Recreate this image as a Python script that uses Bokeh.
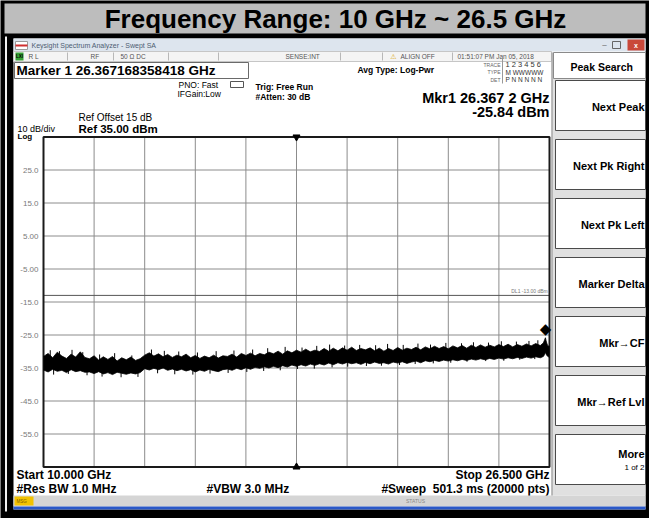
from bokeh.plotting import figure
from bokeh.models import Range1d
from bokeh.core.properties import value
from bokeh.embed import file_html
from bokeh.resources import INLINE

# ------------------------------------------------------------------ data
title_text = "Frequency Range: 10 GHz ~ 26.5 GHz"
start_ghz = 10.0
stop_ghz = 26.5
center_ghz = 18.25
ref_level_dbm = 35.0
db_per_div = 10.0
n_vdiv = 10
display_line_dbm = -13.0
marker_freq_ghz = 26.367168358418
marker_level_dbm = -25.84

y_tick_values = [25, 15, 5, -5, -15, -25, -35, -45, -55]
y_tick_labels = ["25.0", "15.0", "5.00", "-5.00", "-15.0", "-25.0", "-35.0", "-45.0", "-55.0"]
x_grid_ghz = [11.65, 13.30, 14.95, 16.60, 18.25, 19.90, 21.55, 23.20, 24.85]

freq_ghz = [
    10.00, 10.15, 10.30, 10.45, 10.60, 10.75, 10.90, 11.05, 11.20, 11.35,
    11.50, 11.65, 11.80, 11.95, 12.10, 12.25, 12.40, 12.55, 12.70, 12.85,
    13.00, 13.15, 13.30, 13.45, 13.60, 13.75, 13.90, 14.05, 14.20, 14.35,
    14.50, 14.65, 14.80, 14.95, 15.10, 15.25, 15.40, 15.55, 15.70, 15.85,
    16.00, 16.15, 16.30, 16.45, 16.60, 16.75, 16.90, 17.05, 17.20, 17.35,
    17.50, 17.65, 17.80, 17.95, 18.10, 18.25, 18.40, 18.55, 18.70, 18.85,
    19.00, 19.15, 19.30, 19.45, 19.60, 19.75, 19.90, 20.05, 20.20, 20.35,
    20.50, 20.65, 20.80, 20.95, 21.10, 21.25, 21.40, 21.55, 21.70, 21.85,
    22.00, 22.15, 22.30, 22.45, 22.60, 22.75, 22.90, 23.05, 23.20, 23.35,
    23.50, 23.65, 23.80, 23.95, 24.10, 24.25, 24.40, 24.55, 24.70, 24.85,
    25.00, 25.15, 25.30, 25.45, 25.60, 25.75, 25.90, 26.05, 26.20, 26.30,
    26.34, 26.367, 26.39, 26.43, 26.47, 26.50,
]
trace_upper_dbm = [
    -31.5, -30.6, -31.9, -30.2, -31.4, -32.1, -30.8, -31.7, -30.1, -31.8,
    -32.2, -31.3, -32.6, -31.6, -32.4, -31.5, -32.9, -31.9, -32.5, -31.7,
    -32.7, -32.2, -31.1, -30.4, -31.4, -30.7, -31.6, -30.9, -31.8, -31.1,
    -31.6, -30.8, -31.9, -31.2, -32.1, -31.4, -31.9, -31.1, -32.0, -31.3,
    -31.5, -30.8, -31.7, -30.6, -31.2, -30.5, -31.3, -30.6, -31.0, -30.2,
    -30.7, -29.9, -30.8, -29.8, -30.4, -29.6, -30.2, -29.3, -30.1, -29.6,
    -30.0, -29.1, -29.9, -29.0, -29.8, -28.9, -29.6, -28.7, -29.7, -29.1,
    -29.5, -28.9, -29.8, -29.0, -29.9, -29.1, -29.7, -28.8, -29.6, -29.0,
    -29.4, -28.7, -29.5, -28.6, -29.2, -28.4, -29.1, -28.5, -29.2, -28.3,
    -28.9, -28.2, -29.0, -28.1, -28.8, -28.0, -28.7, -28.1, -28.6, -27.9,
    -28.5, -27.8, -28.6, -27.9, -28.4, -27.7, -28.3, -27.6, -28.2, -27.4,
    -26.5, -25.84, -26.8, -28.0, -28.3, -28.6,
]
trace_lower_dbm = [
    -35.6, -36.2, -35.4, -36.0, -35.7, -36.4, -35.5, -36.1, -35.8, -36.3,
    -36.2, -36.7, -36.1, -36.8, -36.4, -37.0, -36.3, -36.6, -36.9, -36.5,
    -36.8, -36.4, -35.2, -35.6, -35.1, -35.5, -35.0, -35.7, -35.3, -35.8,
    -35.4, -35.9, -35.5, -36.2, -35.6, -36.0, -35.4, -35.8, -36.1, -35.5,
    -35.3, -35.7, -35.1, -35.5, -34.9, -35.4, -34.8, -35.1, -34.6, -35.0,
    -34.5, -34.9, -34.3, -34.7, -34.1, -34.5, -34.0, -34.4, -33.8, -34.2,
    -33.7, -34.1, -33.5, -34.0, -33.4, -33.8, -33.3, -33.7, -33.4, -33.9,
    -33.3, -33.7, -33.2, -33.6, -33.4, -33.8, -33.2, -33.5, -33.1, -33.6,
    -33.2, -32.9, -33.4, -32.8, -33.1, -32.7, -33.0, -32.6, -32.9, -32.5,
    -32.8, -32.4, -32.7, -32.3, -32.6, -32.2, -32.5, -32.1, -32.4, -32.0,
    -32.3, -31.9, -32.2, -31.8, -32.1, -31.7, -32.0, -31.6, -31.9, -31.5,
    -30.9, -30.2, -30.8, -31.4, -31.6, -31.9,
]

# isolated noise spikes above / below the trace band
spike_up_ghz = [10.22, 10.52, 10.93, 11.28, 11.83, 12.32, 12.88, 13.52, 13.94, 14.41,
                15.02, 15.63, 16.21, 16.82, 17.31, 17.88, 18.43, 18.91, 19.33, 19.82,
                20.31, 20.83, 21.22, 21.73, 22.21, 22.62, 23.12, 23.63, 24.02, 24.51,
                24.93, 25.42, 25.83, 26.12]
spike_up_dbm = [-29.6, -29.9, -29.5, -30.2, -30.9, -30.5, -31.2, -29.4, -29.8, -30.0,
                -30.3, -29.9, -29.7, -29.4, -29.0, -28.6, -28.8, -28.3, -27.9, -28.2,
                -28.0, -28.1, -27.7, -28.0, -27.6, -27.9, -27.4, -27.5, -27.2, -27.3,
                -26.9, -27.0, -26.8, -26.6]
spike_down_ghz = [10.33, 10.81, 11.42, 11.91, 12.53, 13.08, 13.72, 14.28, 14.87, 15.43,
                  16.02, 16.63, 17.18, 17.72, 18.28, 18.83, 19.41, 19.92, 20.53, 21.02,
                  21.61, 22.12, 22.71, 23.28, 23.81, 24.42, 25.01, 25.53, 26.02]
spike_down_dbm = [-37.0, -36.8, -37.2, -37.6, -37.8, -37.7, -36.6, -36.9, -37.0, -36.7,
                  -36.5, -36.2, -35.9, -35.7, -35.3, -35.2, -34.8, -34.6, -34.4, -34.3,
                  -34.1, -33.8, -33.6, -33.4, -33.1, -32.9, -32.8, -32.5, -32.3]

softkey_labels = ["Next Peak", "Next Pk Right", "Next Pk Left", "Marker Delta",
                  "Mkr\u2192CF", "Mkr\u2192Ref Lvl", "More"]
softkey_sub = "1 of 2"

# ------------------------------------------------------------------ layout (reference pixel coords)
W, H = 649, 518
OX, OY = 0, 0
PL, PR, PT, PB = 43.0, 549.0, 136.5, 466.5

ghz_per_px = (stop_ghz - start_ghz) / (PR - PL)
bottom_dbm = ref_level_dbm - db_per_div * n_vdiv
db_per_px = (ref_level_dbm - bottom_dbm) / (PB - PT)

x_range = Range1d(start_ghz - (PL - OX) * ghz_per_px, stop_ghz + (OX + W - PR) * ghz_per_px)
y_range = Range1d(bottom_dbm - (OY + H - PB) * db_per_px, ref_level_dbm + (PT - OY) * db_per_px)

p = figure(width=W, height=H, x_range=x_range, y_range=y_range,
           x_axis_type=None, y_axis_type=None, toolbar_location=None,
           output_backend="svg", min_border=0,
           background_fill_color="black", border_fill_color="black",
           outline_line_color=None)
p.extra_x_ranges = {"px": Range1d(OX, OX + W)}
p.extra_y_ranges = {"px": Range1d(OY + H, OY)}

FONT = "Liberation Sans"


def box(l, r, t, b, fill, line=None, lw=1):
    p.quad(left=[l], right=[r], top=[t], bottom=[b], fill_color=fill,
           line_color=line, line_width=lw, x_range_name="px", y_range_name="px")


def vline(x, y0, y1, color, lw=1):
    p.segment(x0=[x], x1=[x], y0=[y0], y1=[y1], line_color=color, line_width=lw,
              x_range_name="px", y_range_name="px")


def txt(x, y, s, size, bold=True, color="black", align="left", baseline="middle", font=FONT):
    p.text(x=[x], y=[y], text=[s], text_font=value(font), text_font_size=f"{size}px",
           text_font_style="bold" if bold else "normal", text_color=color,
           text_align=align, text_baseline=baseline,
           x_range_name="px", y_range_name="px")


# outer frame details
vline(5.5, 36, 511, "#f0f0f0", 2)

# title bar
box(4, 645, 3, 33, "#bdbdbd")
txt(335, 18.5, title_text, 26, align="center")

# analyzer window
box(13, 645, 38, 509, "#ffffff")
box(13, 645, 38, 51, "#dde5ee")
box(15, 27, 41, 49, "#ffffff", "#9a9a9a")
box(15, 27, 44, 46, "#d03030")
txt(31, 44.5, "Keysight Spectrum Analyzer - Swept SA", 7, bold=False, color="#4d5d72")
txt(604, 44, "\u2013", 8, bold=False, color="#555555", align="center")
box(612, 620, 41, 48, None, "#666666")
box(627, 644, 39, 50, "#c9483a")
txt(635.5, 44.5, "x", 7, color="white", align="center")

# status row
box(13, 551, 51, 61, "#f4f4f4", "#c6c6c6")
box(15, 23, 52, 60, "#36a336")
txt(19, 56, "LXI", 4.5, align="center")
for sx in [67, 113, 168, 218, 340, 382, 452]:
    vline(sx, 52, 60, "#b8b8b8")
txt(28, 56, "R L", 6.5, bold=False, color="#555555")
txt(90, 56, "RF", 6.5, bold=False, color="#555555")
txt(120, 56, "50 \u03a9  DC", 6.5, bold=False, color="#555555")
txt(285, 56, "SENSE:INT", 6.5, bold=False, color="#555555")
txt(393, 56, "\u26a0", 7, bold=False, color="#d9a400", align="center", font="DejaVu Sans")
txt(400, 56, "ALIGN OFF", 6.5, bold=False, color="#555555")
txt(457, 56, "01:51:07 PM Jan 05, 2018", 6.5, bold=False, color="#555555")

# marker header
box(14, 248, 62, 78, "#ffffff", "#6a6a6a")
txt(16, 70, "Marker 1 26.367168358418 GHz", 13.5)
txt(178, 84, "PNO: Fast", 8.5, bold=False)
txt(177, 93.5, "IFGain:Low", 8.5, bold=False)
box(230, 243, 81, 87, None, "#555555")
txt(255, 86, "Trig: Free Run", 8.5)
txt(255, 96, "#Atten: 30 dB", 8.5)
txt(357, 69, "Avg Type: Log-Pwr", 8.5)
vline(502, 58, 83, "#999999")
txt(500, 64, "TRACE", 5, bold=False, color="#666666", align="right")
txt(500, 71.5, "TYPE", 5, bold=False, color="#666666", align="right")
txt(500, 79, "DET", 5, bold=False, color="#666666", align="right")
txt(505, 64, "1 2 3 4 5 6", 7.5, bold=False, color="#333333")
txt(505, 71.5, "M WWWWW", 6.5, bold=False, color="#333333")
txt(505, 79, "P N N N N N", 6.5, bold=False, color="#333333")

txt(549, 97, "Mkr1 26.367 2 GHz", 14.5, align="right")
txt(549, 111, "-25.84 dBm", 14.5, align="right")
txt(78, 117, "Ref Offset 15 dB", 10, bold=False)
txt(17, 128, "10 dB/div", 9, bold=False)
txt(78, 128, "Ref 35.00 dBm", 11.5)
txt(17, 135.5, "Log", 8)

# bottom annotations
txt(16, 474, "Start 10.000 GHz", 12)
txt(549, 474, "Stop 26.500 GHz", 12, align="right")
txt(16, 488, "#Res BW 1.0 MHz", 12)
txt(206, 488, "#VBW 3.0 MHz", 12)
txt(549, 488, "#Sweep\u00a0\u00a0501.3 ms (20000 pts)", 12, align="right")

# bottom status bar
box(13, 645, 495, 506, "#d5d5d5")
box(14, 33, 496, 505, "#f2c200")
txt(16, 500.5, "MSG", 4.5, bold=False, color="#7a5a00")
txt(415, 500.5, "STATUS", 5, bold=False, color="#888888", align="center")
box(13, 645, 506, 509, "#2a58c8")

# soft key panel
box(551, 645, 52, 495, "#e0e0e0")
vline(551.5, 52, 495, "#8a8a8a")
box(553, 645, 52, 78, "#ffffff", "#8a8a8a")
txt(570, 66, "Peak Search", 10.5)
key_tops = [80, 139, 198, 257, 316, 375, 434]
key_h = 50
for kt, lab in zip(key_tops, softkey_labels):
    box(555, 645, kt, kt + key_h, "#ffffff", "#4a4a4a")
    ty = kt + key_h / 2 + 1
    if lab == "More":
        ty = kt + 19
    txt(644, ty, lab, 11, align="right")
txt(644, key_tops[-1] + 33, softkey_sub, 8, bold=False, align="right")

# ------------------------------------------------------------------ graticule (data coords)
p.quad(left=[start_ghz], right=[stop_ghz], top=[ref_level_dbm], bottom=[bottom_dbm],
       fill_color="white", line_color=None)
p.segment(x0=x_grid_ghz, x1=x_grid_ghz, y0=[bottom_dbm] * len(x_grid_ghz),
          y1=[ref_level_dbm] * len(x_grid_ghz), line_color="#8c8c8c", line_width=1)
p.segment(x0=[start_ghz] * len(y_tick_values), x1=[stop_ghz] * len(y_tick_values),
          y0=y_tick_values, y1=y_tick_values, line_color="#8c8c8c", line_width=1)
p.segment(x0=[start_ghz], x1=[stop_ghz], y0=[display_line_dbm], y1=[display_line_dbm],
          line_color="#555555", line_width=1)
p.text(x=[stop_ghz - 0.06], y=[display_line_dbm], text=["DL1 -13.00 dBm"],
       text_font=value(FONT), text_font_size="5px", text_color="#777777",
       text_align="right", text_baseline="bottom", y_offset=-1)
p.text(x=[38] * len(y_tick_values), y=y_tick_values, text=y_tick_labels,
       text_font=value(FONT), text_font_size="8px", text_color="#7a7a7a",
       text_align="right", text_baseline="middle", x_range_name="px")
p.quad(left=[start_ghz], right=[stop_ghz], top=[ref_level_dbm], bottom=[bottom_dbm],
       fill_color=None, line_color="#1a1a1a", line_width=2)
p.scatter(x=[center_ghz], y=[ref_level_dbm], marker="inverted_triangle", size=7,
          fill_color="black", line_color="black")
p.scatter(x=[center_ghz], y=[bottom_dbm], marker="triangle", size=7,
          fill_color="black", line_color="black")

# trace
p.varea(x=freq_ghz, y1=trace_lower_dbm, y2=trace_upper_dbm, fill_color="black")
p.line(x=freq_ghz, y=trace_upper_dbm, line_color="black", line_width=0.8)
p.line(x=freq_ghz, y=trace_lower_dbm, line_color="black", line_width=0.8)
spike_len_db = 2.5
p.segment(x0=spike_up_ghz, x1=spike_up_ghz, y0=spike_up_dbm,
          y1=[v - spike_len_db for v in spike_up_dbm], line_color="black", line_width=1)
p.segment(x0=spike_down_ghz, x1=spike_down_ghz, y0=spike_down_dbm,
          y1=[v + spike_len_db for v in spike_down_dbm], line_color="black", line_width=1)
p.text(x=[marker_freq_ghz], y=[marker_level_dbm], text=["\u25c6"],
       text_font=value("DejaVu Sans"), text_font_size="15px", text_color="black",
       text_align="center", text_baseline="bottom")

open("out.html", "w").write(file_html(p, INLINE))
